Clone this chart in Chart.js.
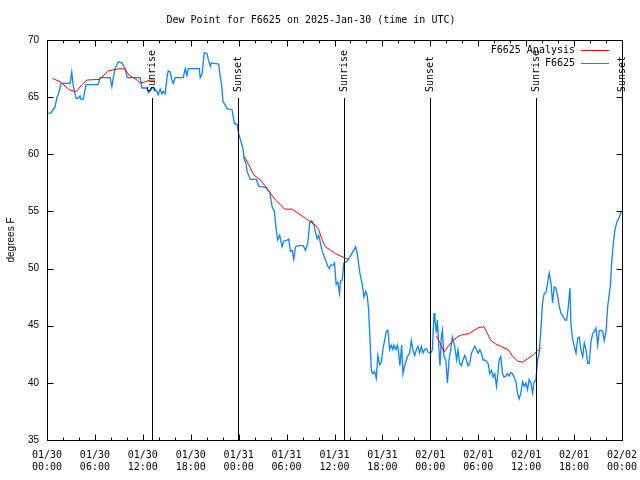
<!DOCTYPE html>
<html>
<head>
<meta charset="utf-8">
<script src="https://cdn.jsdelivr.net/npm/chart.js@4/dist/chart.umd.min.js"></script>
<style>
  html, body { margin: 0; padding: 0; background: #fff; }
  #grafico { display: block; }
</style>
</head>
<body>
<canvas id="grafico" width="640" height="480"></canvas>
<script>
// hours since 01/30 00:00 UTC
const obsHours = [0.16,0.50,0.75,1.00,1.22,1.38,1.63,1.76,2.89,3.10,3.26,3.64,3.89,4.14,4.27,4.52,4.89,6.40,6.65,7.90,
  8.12,8.28,8.53,8.91,9.37,9.78,10.04,11.67,11.88,12.51,12.71,13.13,13.30,13.76,13.92,14.17,14.39,14.55,14.80,15.02,
  15.18,15.43,15.64,15.81,16.06,17.06,17.31,17.52,17.69,19.07,19.19,19.41,19.69,20.03,20.20,20.45,20.57,21.49,21.70,21.91,
  22.04,22.33,22.54,23.17,23.46,23.80,24.00,24.30,24.55,24.71,24.93,25.05,25.46,26.22,26.51,27.35,27.89,28.19,28.47,28.69,
  28.89,29.14,29.44,29.64,30.07,30.27,30.48,30.70,30.90,31.11,31.52,32.08,32.36,32.65,32.90,33.12,33.40,33.62,33.83,34.03,
  34.25,34.46,34.75,35.16,35.37,35.50,35.84,36.00,36.21,36.42,36.63,36.75,36.97,37.17,37.51,37.92,38.64,38.85,39.18,39.48,
  39.68,39.89,40.10,40.27,40.43,40.61,40.81,41.02,41.23,41.43,41.65,41.86,42.06,42.27,42.49,42.69,42.90,43.11,43.31,43.44,
  43.69,43.87,43.99,44.19,44.41,44.57,44.78,45.00,45.20,45.41,45.62,45.82,46.04,46.25,46.45,46.66,46.88,47.08,47.29,47.50,
  47.70,48.04,48.26,48.46,48.58,48.76,48.88,49.08,49.21,49.38,49.51,49.71,49.93,50.14,50.34,50.55,50.76,51.05,51.30,51.46,
  51.68,51.89,52.09,52.31,52.52,52.72,52.94,53.15,53.35,53.56,53.78,53.98,54.19,54.40,54.60,54.82,55.03,55.23,55.44,55.66,
  55.86,56.07,56.28,56.45,56.61,56.82,57.04,57.24,57.45,57.66,57.87,58.08,58.29,58.49,58.71,58.92,59.12,59.33,59.55,59.75,
  59.96,60.17,60.38,60.59,60.80,61.00,61.21,61.43,61.63,61.84,62.05,62.25,62.47,62.68,62.88,63.10,63.31,63.51,63.72,63.94,
  64.14,64.35,64.56,64.85,65.07,65.27,65.48,65.61,65.77,66.02,66.24,66.45,66.65,66.86,67.08,67.28,67.49,67.70,67.90,68.11,
  68.33,68.53,68.74,68.96,69.16,69.37,69.58,69.78,70.00,70.21,70.41,70.54,70.71,70.84,70.96,71.12,71.37,71.67,71.88];
const obsValues = [63.6,63.6,63.9,64.1,64.9,65.2,65.8,66.2,66.2,67.2,66.1,64.9,64.9,65.1,64.8,64.8,66.1,66.1,66.7,66.7,
  65.9,66.6,67.5,68.1,68.0,67.5,66.7,66.7,65.8,65.8,65.4,65.8,65.8,65.5,65.2,65.7,65.3,65.5,65.3,66.7,
  67.3,67.2,66.5,66.2,66.7,66.7,67.5,66.9,67.5,67.5,66.7,67.0,68.9,68.8,68.3,67.7,68.0,67.9,66.8,65.8,
  64.6,64.3,64.0,63.9,62.7,62.6,61.8,61.1,60.4,59.5,59.2,58.5,57.8,57.8,57.2,57.1,56.7,55.4,55.0,53.5,
  52.5,52.9,51.9,52.4,52.5,52.6,51.5,51.6,50.8,51.9,52.0,52.0,51.6,52.2,54.0,54.2,53.9,53.2,52.6,52.9,
  52.2,51.5,51.0,50.2,50.0,50.3,50.3,50.5,48.6,48.8,47.8,48.9,49.0,50.5,50.6,51.0,51.9,51.3,49.6,48.6,
  47.5,48.0,47.6,46.4,44.0,41.1,40.8,41.0,40.4,42.4,41.6,41.8,42.9,43.7,44.5,44.6,42.9,43.3,42.9,43.3,
  42.9,43.3,42.9,41.5,43.3,40.8,41.5,42.0,42.4,42.6,43.7,42.9,42.4,42.9,43.2,42.6,43.2,42.6,42.9,43.0,
  42.7,42.6,42.9,46.1,45.5,44.4,45.5,42.9,41.5,44.0,44.6,42.3,42.0,40.0,42.0,42.9,44.0,43.2,42.0,42.9,
  41.7,41.5,42.0,42.4,42.0,41.5,41.7,42.6,42.9,43.2,42.9,42.6,42.9,42.6,42.0,42.0,41.9,41.7,40.8,41.1,
  40.5,40.8,39.7,40.8,42.0,42.3,40.8,40.5,40.6,40.8,40.6,40.9,40.8,40.5,40.1,39.1,38.6,39.1,40.1,39.7,
  40.0,39.4,40.3,40.0,39.1,40.1,40.2,42.0,42.6,44.6,47.0,47.8,47.9,48.7,49.6,48.8,47.0,48.4,48.3,47.6,
  46.7,46.1,45.9,45.5,45.5,46.6,48.3,45.2,44.0,43.2,42.6,43.9,44.0,42.9,42.3,43.5,42.9,41.7,41.7,43.6,
  44.3,44.5,44.8,43.3,44.6,44.6,44.5,43.7,44.5,46.7,47.8,48.5,50.5,51.6,52.5,53.4,54.1,54.5,55.0];

// analysis series (null = gap)
const anaHours = [0.66,1.63,2.89,3.67,4.39,5.02,6.56,7.69,9.16,9.78,10.30,11.29,11.67,12.29,12.92,13.55,
  13.60,
  24.71,25.25,25.88,26.72,27.35,27.97,28.60,29.23,29.73,30.70,31.52,32.36,32.99,33.62,34.03,34.46,34.87,35.50,36.13,36.75,37.38,37.80,
  37.85,
  48.76,49.21,49.71,50.34,50.97,51.59,52.22,52.85,53.48,54.10,54.73,55.16,55.57,56.20,56.82,57.74,58.29,58.92,59.55,60.17,60.80,61.43,61.84];
const anaValues = [66.65,66.35,65.6,65.5,66.1,66.5,66.55,67.3,67.5,67.45,66.9,66.5,66.2,66.35,66.5,66.5,
  null,
  59.8,59.1,58.2,57.75,57.2,56.6,56.0,55.6,55.2,55.2,54.8,54.4,54.1,53.8,53.4,52.5,51.9,51.6,51.3,51.1,50.9,50.8,
  null,
  44.1,43.5,42.7,43.3,43.8,44.1,44.25,44.3,44.6,44.85,44.9,44.3,43.7,43.4,43.2,42.9,42.35,41.9,41.8,42.1,42.4,42.8,43.1];

const sunHours = [13.2, 23.92, 37.17, 47.96, 61.25, 72];
const sunLabels = ["Sunrise", "Sunset", "Sunrise", "Sunset", "Sunrise", "Sunset"];

const tickDates = ["01/30","01/30","01/30","01/30","01/31","01/31","01/31","01/31","02/01","02/01","02/01","02/01","02/02"];
const tickTimes = ["00:00","06:00","12:00","18:00","00:00","06:00","12:00","18:00","00:00","06:00","12:00","18:00","00:00"];

const MONO = "'DejaVu Sans Mono', monospace";
const SANS = "'Liberation Sans', Arial, sans-serif";

const cantos = {
  id: "cantos",
  afterDatasetsDraw(chart) {
    const ctx = chart.ctx;
    const a = chart.chartArea;
    const sx = chart.scales.x, sy = chart.scales.y;
    ctx.save();
    ctx.strokeStyle = "#000";
    ctx.lineWidth = 1;

    // sunrise / sunset markers
    ctx.font = "10px " + MONO;
    ctx.fillStyle = "#000";
    sunHours.forEach((h, i) => {
      const x = Math.round(sx.getPixelForValue(h)) + 0.5;
      ctx.beginPath();
      ctx.moveTo(x, a.bottom);
      ctx.lineTo(x, a.top + 58);
      ctx.stroke();
      ctx.save();
      ctx.translate(x, a.top + 52);
      ctx.rotate(-Math.PI / 2);
      ctx.textAlign = "left";
      ctx.textBaseline = "middle";
      ctx.fillText(sunLabels[i], 0, 0);
      ctx.restore();
    });

    // border box
    const l = Math.round(a.left) + 0.5, r = Math.round(a.right) + 0.5;
    const t = Math.round(a.top) + 0.5, b = Math.round(a.bottom) + 0.5;
    ctx.strokeRect(l, t, r - l, b - t);

    // inward ticks
    ctx.beginPath();
    for (let h = 0; h <= 72; h += 2) {
      const x = Math.round(sx.getPixelForValue(h)) + 0.5;
      const len = h % 6 === 0 ? 6 : 3;
      ctx.moveTo(x, b); ctx.lineTo(x, b - len);
      ctx.moveTo(x, t); ctx.lineTo(x, t + len);
    }
    for (let v = 35; v <= 70; v += 5) {
      const y = Math.round(sy.getPixelForValue(v)) + 0.5;
      ctx.moveTo(l, y); ctx.lineTo(l + 6, y);
      ctx.moveTo(r, y); ctx.lineTo(r - 6, y);
    }
    ctx.stroke();

    // legend
    ctx.font = "10px " + MONO;
    ctx.textAlign = "right";
    ctx.textBaseline = "middle";
    chart.data.datasets.forEach((ds, i) => {
      const y = a.top + 10 + i * 13;
      ctx.fillStyle = "#000";
      ctx.fillText(ds.label, 575, y);
      ctx.strokeStyle = ds.borderColor;
      ctx.beginPath();
      ctx.moveTo(581, Math.round(y) + 0.5);
      ctx.lineTo(609, Math.round(y) + 0.5);
      ctx.stroke();
    });
    ctx.restore();
  }
};

Chart.defaults.color = "#000";
Chart.defaults.animation = false;

new Chart(document.getElementById("grafico").getContext("2d"), {
  type: "line",
  data: {
    datasets: [
      {
        label: "F6625 Analysis",
        data: anaHours.map((h, i) => ({ x: h, y: anaValues[i] })),
        borderColor: "#ff0000",
        borderWidth: 1,
        pointRadius: 0,
        spanGaps: false,
        tension: 0
      },
      {
        label: "F6625",
        data: obsHours.map((h, i) => ({ x: h, y: obsValues[i] })),
        borderColor: "#0a84ff",
        borderWidth: 1.3,
        pointRadius: 0,
        tension: 0
      }
    ]
  },
  options: {
    responsive: false,
    layout: { padding: { left: 0, right: 18, top: 0, bottom: 0 } },
    plugins: {
      legend: { display: false },
      tooltip: { enabled: false },
      title: {
        display: true,
        text: "Dew Point for F6625 on 2025-Jan-30 (time in UTC)",
        font: { family: MONO, size: 10, weight: "normal" },
        color: "#000",
        padding: { top: 14, bottom: 14 }
      }
    },
    scales: {
      x: {
        type: "linear",
        min: 0,
        max: 72,
        grid: { display: false },
        border: { display: false },
        afterFit(scale) { scale.height = 40; },
        ticks: {
          stepSize: 2,
          autoSkip: false,
          maxRotation: 0,
          padding: 1,
          font: { family: MONO, size: 10 },
          callback(value) {
            if (value % 6 !== 0) return "";
            const i = value / 6;
            return [tickDates[i], tickTimes[i]];
          }
        }
      },
      y: {
        min: 35,
        max: 70,
        grid: { display: false },
        border: { display: false },
        afterFit(scale) { scale.width = 47; },
        title: {
          display: true,
          text: "degrees F",
          font: { family: SANS, size: 10 },
          padding: { top: 5, bottom: 0 }
        },
        ticks: {
          stepSize: 5,
          padding: 0,
          font: { family: SANS, size: 10 }
        }
      }
    }
  },
  plugins: [cantos]
});
</script>
</body>
</html>
